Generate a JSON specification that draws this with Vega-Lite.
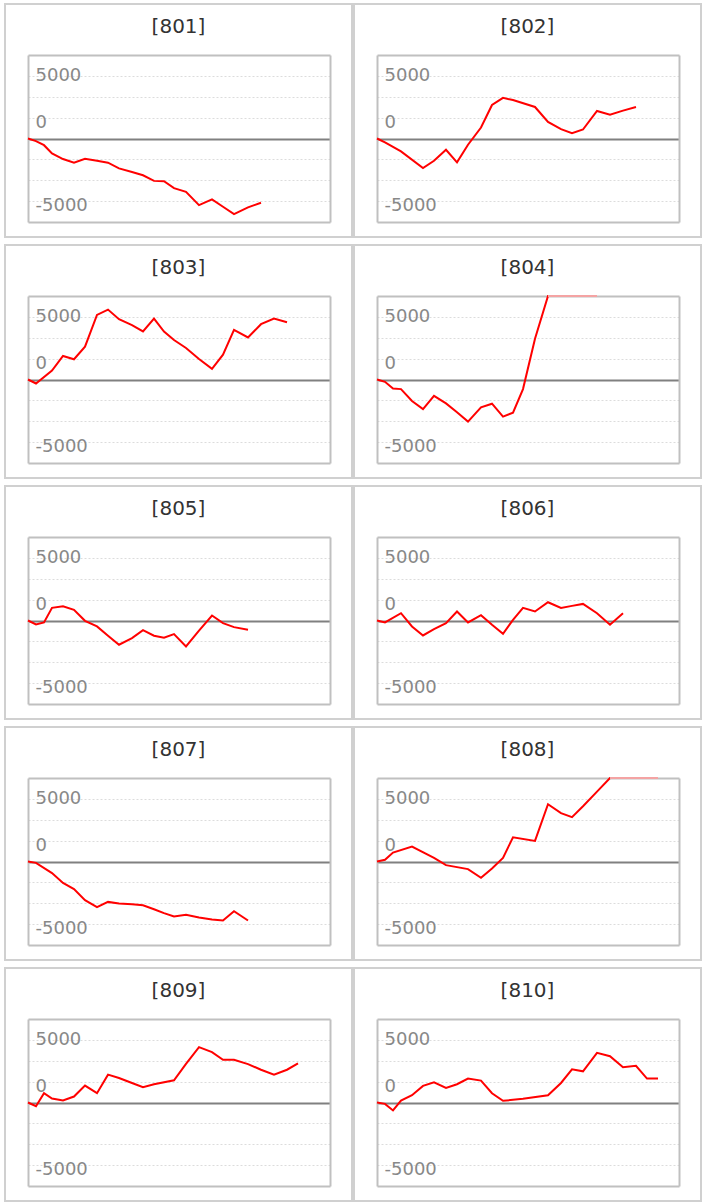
{
  "$schema": "https://vega.github.io/schema/vega-lite/v6.json",
  "padding": {"left": 4, "top": 3, "right": 0, "bottom": 0},
  "background": "white",
  "datasets": {
    "pl": [
      {"code":"801","t":0,"v":0},{"code":"801","t":8,"v":-250},{"code":"801","t":16,"v":-640},{"code":"801","t":24,"v":-1430},{"code":"801","t":35,"v":-1970},{"code":"801","t":46,"v":-2320},{"code":"801","t":57,"v":-1940},{"code":"801","t":69,"v":-2130},{"code":"801","t":80,"v":-2320},{"code":"801","t":91,"v":-2860},{"code":"801","t":104,"v":-3210},{"code":"801","t":115,"v":-3520},{"code":"801","t":126,"v":-4060},{"code":"801","t":136,"v":-4100},{"code":"801","t":146,"v":-4760},{"code":"801","t":158,"v":-5110},{"code":"801","t":171,"v":-6380},{"code":"801","t":184,"v":-5840},{"code":"801","t":195,"v":-6540},{"code":"801","t":206,"v":-7240},{"code":"801","t":220,"v":-6600},{"code":"801","t":233,"v":-6160},
      {"code":"802","t":0,"v":0},{"code":"802","t":8,"v":-380},{"code":"802","t":24,"v":-1240},{"code":"802","t":46,"v":-2830},{"code":"802","t":57,"v":-2130},{"code":"802","t":69,"v":-1080},{"code":"802","t":80,"v":-2290},{"code":"802","t":91,"v":-600},{"code":"802","t":104,"v":1050},{"code":"802","t":115,"v":3210},{"code":"802","t":126,"v":3900},{"code":"802","t":136,"v":3680},{"code":"802","t":158,"v":3020},{"code":"802","t":171,"v":1590},{"code":"802","t":184,"v":890},{"code":"802","t":195,"v":510},{"code":"802","t":206,"v":860},{"code":"802","t":220,"v":2640},{"code":"802","t":233,"v":2290},{"code":"802","t":246,"v":2670},{"code":"802","t":259,"v":3020},
      {"code":"803","t":0,"v":0},{"code":"803","t":8,"v":-380},{"code":"803","t":24,"v":860},{"code":"803","t":35,"v":2250},{"code":"803","t":46,"v":1940},{"code":"803","t":57,"v":3140},{"code":"803","t":69,"v":6190},{"code":"803","t":80,"v":6700},{"code":"803","t":91,"v":5780},{"code":"803","t":104,"v":5210},{"code":"803","t":115,"v":4600},{"code":"803","t":126,"v":5840},{"code":"803","t":136,"v":4600},{"code":"803","t":146,"v":3780},{"code":"803","t":158,"v":3020},{"code":"803","t":171,"v":1970},{"code":"803","t":184,"v":1020},{"code":"803","t":195,"v":2380},{"code":"803","t":206,"v":4760},{"code":"803","t":220,"v":4030},{"code":"803","t":233,"v":5300},{"code":"803","t":246,"v":5840},{"code":"803","t":259,"v":5490},
      {"code":"804","t":0,"v":0},{"code":"804","t":8,"v":-220},{"code":"804","t":16,"v":-860},{"code":"804","t":24,"v":-920},{"code":"804","t":35,"v":-2060},{"code":"804","t":46,"v":-2830},{"code":"804","t":57,"v":-1560},{"code":"804","t":69,"v":-2290},{"code":"804","t":80,"v":-3140},{"code":"804","t":91,"v":-4030},{"code":"804","t":104,"v":-2670},{"code":"804","t":115,"v":-2320},{"code":"804","t":126,"v":-3560},{"code":"804","t":136,"v":-3180},{"code":"804","t":146,"v":-920},{"code":"804","t":158,"v":3900},{"code":"804","t":171,"v":8300},{"code":"804","t":184,"v":9500},{"code":"804","t":195,"v":10200},{"code":"804","t":206,"v":10800},{"code":"804","t":220,"v":11200},
      {"code":"805","t":0,"v":0},{"code":"805","t":8,"v":-380},{"code":"805","t":16,"v":-190},{"code":"805","t":24,"v":1210},{"code":"805","t":35,"v":1370},{"code":"805","t":46,"v":1020},{"code":"805","t":57,"v":-30},{"code":"805","t":69,"v":-570},{"code":"805","t":80,"v":-1460},{"code":"805","t":91,"v":-2320},{"code":"805","t":104,"v":-1680},{"code":"805","t":115,"v":-920},{"code":"805","t":126,"v":-1460},{"code":"805","t":136,"v":-1650},{"code":"805","t":146,"v":-1300},{"code":"805","t":158,"v":-2480},{"code":"805","t":171,"v":-980},{"code":"805","t":184,"v":480},{"code":"805","t":195,"v":-250},{"code":"805","t":206,"v":-635},{"code":"805","t":220,"v":-890},
      {"code":"806","t":0,"v":0},{"code":"806","t":8,"v":-190},{"code":"806","t":24,"v":700},{"code":"806","t":35,"v":-570},{"code":"806","t":46,"v":-1430},{"code":"806","t":57,"v":-830},{"code":"806","t":69,"v":-250},{"code":"806","t":80,"v":860},{"code":"806","t":91,"v":-190},{"code":"806","t":104,"v":510},{"code":"806","t":115,"v":-410},{"code":"806","t":126,"v":-1270},{"code":"806","t":136,"v":60},{"code":"806","t":146,"v":1210},{"code":"806","t":158,"v":860},{"code":"806","t":171,"v":1750},{"code":"806","t":184,"v":1210},{"code":"806","t":195,"v":1400},{"code":"806","t":206,"v":1590},{"code":"806","t":220,"v":700},{"code":"806","t":233,"v":-410},{"code":"806","t":246,"v":700},
      {"code":"807","t":0,"v":0},{"code":"807","t":8,"v":-130},{"code":"807","t":24,"v":-1110},{"code":"807","t":35,"v":-2060},{"code":"807","t":46,"v":-2640},{"code":"807","t":57,"v":-3710},{"code":"807","t":69,"v":-4380},{"code":"807","t":80,"v":-3870},{"code":"807","t":91,"v":-4030},{"code":"807","t":104,"v":-4100},{"code":"807","t":115,"v":-4190},{"code":"807","t":126,"v":-4570},{"code":"807","t":136,"v":-4950},{"code":"807","t":146,"v":-5270},{"code":"807","t":158,"v":-5110},{"code":"807","t":171,"v":-5370},{"code":"807","t":184,"v":-5560},{"code":"807","t":195,"v":-5650},{"code":"807","t":206,"v":-4760},{"code":"807","t":220,"v":-5650},
      {"code":"808","t":0,"v":0},{"code":"808","t":8,"v":160},{"code":"808","t":16,"v":860},{"code":"808","t":35,"v":1430},{"code":"808","t":57,"v":350},{"code":"808","t":69,"v":-350},{"code":"808","t":91,"v":-730},{"code":"808","t":104,"v":-1560},{"code":"808","t":115,"v":-670},{"code":"808","t":126,"v":350},{"code":"808","t":136,"v":2320},{"code":"808","t":158,"v":1970},{"code":"808","t":171,"v":5490},{"code":"808","t":184,"v":4630},{"code":"808","t":195,"v":4250},{"code":"808","t":206,"v":5300},{"code":"808","t":220,"v":6700},{"code":"808","t":233,"v":8100},{"code":"808","t":246,"v":9000},{"code":"808","t":259,"v":9800},{"code":"808","t":270,"v":10500},{"code":"808","t":281,"v":11000},
      {"code":"809","t":0,"v":0},{"code":"809","t":8,"v":-350},{"code":"809","t":16,"v":890},{"code":"809","t":24,"v":380},{"code":"809","t":35,"v":190},{"code":"809","t":46,"v":570},{"code":"809","t":57,"v":1620},{"code":"809","t":69,"v":890},{"code":"809","t":80,"v":2670},{"code":"809","t":91,"v":2350},{"code":"809","t":104,"v":1870},{"code":"809","t":115,"v":1460},{"code":"809","t":126,"v":1750},{"code":"809","t":146,"v":2130},{"code":"809","t":158,"v":3700},{"code":"809","t":171,"v":5300},{"code":"809","t":184,"v":4830},{"code":"809","t":195,"v":4100},{"code":"809","t":206,"v":4100},{"code":"809","t":220,"v":3680},{"code":"809","t":233,"v":3140},{"code":"809","t":246,"v":2670},{"code":"809","t":259,"v":3140},{"code":"809","t":270,"v":3750},
      {"code":"810","t":0,"v":0},{"code":"810","t":8,"v":-130},{"code":"810","t":16,"v":-760},{"code":"810","t":24,"v":190},{"code":"810","t":35,"v":700},{"code":"810","t":46,"v":1590},{"code":"810","t":57,"v":1940},{"code":"810","t":69,"v":1400},{"code":"810","t":80,"v":1750},{"code":"810","t":91,"v":2290},{"code":"810","t":104,"v":2100},{"code":"810","t":115,"v":890},{"code":"810","t":126,"v":160},{"code":"810","t":146,"v":350},{"code":"810","t":171,"v":700},{"code":"810","t":184,"v":1870},{"code":"810","t":195,"v":3180},{"code":"810","t":206,"v":2990},{"code":"810","t":220,"v":4760},{"code":"810","t":233,"v":4440},{"code":"810","t":246,"v":3370},{"code":"810","t":259,"v":3520},{"code":"810","t":270,"v":2290},{"code":"810","t":281,"v":2290}
    ]
  },
  "columns": 2,
  "spacing": {"row": 6, "column": 0},
  "concat": [
    {"title": {"text": "[801]"}, "width": 347, "height": 233, "data": {"name": "pl"}, "transform": [{"filter": "datum.code === '801'"}],
     "layer": [
      {"mark": {"type": "line", "opacity": 0}, "encoding": {
        "x": {"field": "t", "type": "quantitative", "scale": {"domain": [0, 302], "range": [23, 325], "nice": false, "zero": false}, "axis": {"orient": "top", "offset": -51, "title": null}},
        "y": {"field": "v", "type": "quantitative", "scale": {"domain": [-8000, 8000], "range": [218, 51], "nice": false, "zero": false, "clamp": true}, "axis": {"orient": "right", "offset": -22, "title": null}}}},
      {"mark": {"type": "line", "color": "#ff0000", "strokeWidth": 2}, "encoding": {
        "x": {"field": "t", "type": "quantitative", "axis": {"orient": "bottom", "offset": -15, "title": null}},
        "y": {"field": "v", "type": "quantitative", "axis": {"orient": "left", "offset": -23, "title": null, "labels": true, "grid": true, "values": [-6000, -5000, -4000, -2000, 0, 2000, 4000, 5000, 6000], "labelExpr": "(datum.value === 0 || datum.value === 5000 || datum.value === -5000) ? '' + datum.value : ''", "labelOffset": {"condition": [{"test": "datum.value === 0", "value": -16}, {"test": "datum.value === 5000", "value": -11}], "value": 15}, "gridColor": {"condition": {"test": "datum.value === 0", "value": "#808080"}, "value": "#dcdcdc"}, "gridDash": {"condition": {"test": "datum.value === 0", "value": []}, "value": [2, 2]}, "gridWidth": {"condition": {"test": "datum.value === 0", "value": 2}, "value": 1}, "gridOpacity": {"condition": {"test": "abs(datum.value) === 5000", "value": 0}, "value": 1}}}}},
      {"transform": [{"filter": "datum.v > 8000"}], "mark": {"type": "line", "color": "#f4a3a3", "strokeWidth": 2}, "encoding": {
        "x": {"field": "t", "type": "quantitative", "axis": null},
        "y": {"field": "v", "type": "quantitative", "axis": null}}}
     ],
     "resolve": {"axis": {"x": "independent", "y": "independent"}}},
    {"title": {"text": "[802]"}, "width": 347, "height": 233, "data": {"name": "pl"}, "transform": [{"filter": "datum.code === '802'"}],
     "layer": [
      {"mark": {"type": "line", "opacity": 0}, "encoding": {
        "x": {"field": "t", "type": "quantitative", "scale": {"domain": [0, 302], "range": [23, 325], "nice": false, "zero": false}, "axis": {"orient": "top", "offset": -51, "title": null}},
        "y": {"field": "v", "type": "quantitative", "scale": {"domain": [-8000, 8000], "range": [218, 51], "nice": false, "zero": false, "clamp": true}, "axis": {"orient": "right", "offset": -22, "title": null}}}},
      {"mark": {"type": "line", "color": "#ff0000", "strokeWidth": 2}, "encoding": {
        "x": {"field": "t", "type": "quantitative", "axis": {"orient": "bottom", "offset": -15, "title": null}},
        "y": {"field": "v", "type": "quantitative", "axis": {"orient": "left", "offset": -23, "title": null, "labels": true, "grid": true, "values": [-6000, -5000, -4000, -2000, 0, 2000, 4000, 5000, 6000], "labelExpr": "(datum.value === 0 || datum.value === 5000 || datum.value === -5000) ? '' + datum.value : ''", "labelOffset": {"condition": [{"test": "datum.value === 0", "value": -16}, {"test": "datum.value === 5000", "value": -11}], "value": 15}, "gridColor": {"condition": {"test": "datum.value === 0", "value": "#808080"}, "value": "#dcdcdc"}, "gridDash": {"condition": {"test": "datum.value === 0", "value": []}, "value": [2, 2]}, "gridWidth": {"condition": {"test": "datum.value === 0", "value": 2}, "value": 1}, "gridOpacity": {"condition": {"test": "abs(datum.value) === 5000", "value": 0}, "value": 1}}}}},
      {"transform": [{"filter": "datum.v > 8000"}], "mark": {"type": "line", "color": "#f4a3a3", "strokeWidth": 2}, "encoding": {
        "x": {"field": "t", "type": "quantitative", "axis": null},
        "y": {"field": "v", "type": "quantitative", "axis": null}}}
     ],
     "resolve": {"axis": {"x": "independent", "y": "independent"}}},
    {"title": {"text": "[803]"}, "width": 347, "height": 233, "data": {"name": "pl"}, "transform": [{"filter": "datum.code === '803'"}],
     "layer": [
      {"mark": {"type": "line", "opacity": 0}, "encoding": {
        "x": {"field": "t", "type": "quantitative", "scale": {"domain": [0, 302], "range": [23, 325], "nice": false, "zero": false}, "axis": {"orient": "top", "offset": -51, "title": null}},
        "y": {"field": "v", "type": "quantitative", "scale": {"domain": [-8000, 8000], "range": [218, 51], "nice": false, "zero": false, "clamp": true}, "axis": {"orient": "right", "offset": -22, "title": null}}}},
      {"mark": {"type": "line", "color": "#ff0000", "strokeWidth": 2}, "encoding": {
        "x": {"field": "t", "type": "quantitative", "axis": {"orient": "bottom", "offset": -15, "title": null}},
        "y": {"field": "v", "type": "quantitative", "axis": {"orient": "left", "offset": -23, "title": null, "labels": true, "grid": true, "values": [-6000, -5000, -4000, -2000, 0, 2000, 4000, 5000, 6000], "labelExpr": "(datum.value === 0 || datum.value === 5000 || datum.value === -5000) ? '' + datum.value : ''", "labelOffset": {"condition": [{"test": "datum.value === 0", "value": -16}, {"test": "datum.value === 5000", "value": -11}], "value": 15}, "gridColor": {"condition": {"test": "datum.value === 0", "value": "#808080"}, "value": "#dcdcdc"}, "gridDash": {"condition": {"test": "datum.value === 0", "value": []}, "value": [2, 2]}, "gridWidth": {"condition": {"test": "datum.value === 0", "value": 2}, "value": 1}, "gridOpacity": {"condition": {"test": "abs(datum.value) === 5000", "value": 0}, "value": 1}}}}},
      {"transform": [{"filter": "datum.v > 8000"}], "mark": {"type": "line", "color": "#f4a3a3", "strokeWidth": 2}, "encoding": {
        "x": {"field": "t", "type": "quantitative", "axis": null},
        "y": {"field": "v", "type": "quantitative", "axis": null}}}
     ],
     "resolve": {"axis": {"x": "independent", "y": "independent"}}},
    {"title": {"text": "[804]"}, "width": 347, "height": 233, "data": {"name": "pl"}, "transform": [{"filter": "datum.code === '804'"}],
     "layer": [
      {"mark": {"type": "line", "opacity": 0}, "encoding": {
        "x": {"field": "t", "type": "quantitative", "scale": {"domain": [0, 302], "range": [23, 325], "nice": false, "zero": false}, "axis": {"orient": "top", "offset": -51, "title": null}},
        "y": {"field": "v", "type": "quantitative", "scale": {"domain": [-8000, 8000], "range": [218, 51], "nice": false, "zero": false, "clamp": true}, "axis": {"orient": "right", "offset": -22, "title": null}}}},
      {"mark": {"type": "line", "color": "#ff0000", "strokeWidth": 2}, "encoding": {
        "x": {"field": "t", "type": "quantitative", "axis": {"orient": "bottom", "offset": -15, "title": null}},
        "y": {"field": "v", "type": "quantitative", "axis": {"orient": "left", "offset": -23, "title": null, "labels": true, "grid": true, "values": [-6000, -5000, -4000, -2000, 0, 2000, 4000, 5000, 6000], "labelExpr": "(datum.value === 0 || datum.value === 5000 || datum.value === -5000) ? '' + datum.value : ''", "labelOffset": {"condition": [{"test": "datum.value === 0", "value": -16}, {"test": "datum.value === 5000", "value": -11}], "value": 15}, "gridColor": {"condition": {"test": "datum.value === 0", "value": "#808080"}, "value": "#dcdcdc"}, "gridDash": {"condition": {"test": "datum.value === 0", "value": []}, "value": [2, 2]}, "gridWidth": {"condition": {"test": "datum.value === 0", "value": 2}, "value": 1}, "gridOpacity": {"condition": {"test": "abs(datum.value) === 5000", "value": 0}, "value": 1}}}}},
      {"transform": [{"filter": "datum.v > 8000"}], "mark": {"type": "line", "color": "#f4a3a3", "strokeWidth": 2}, "encoding": {
        "x": {"field": "t", "type": "quantitative", "axis": null},
        "y": {"field": "v", "type": "quantitative", "axis": null}}}
     ],
     "resolve": {"axis": {"x": "independent", "y": "independent"}}},
    {"title": {"text": "[805]"}, "width": 347, "height": 233, "data": {"name": "pl"}, "transform": [{"filter": "datum.code === '805'"}],
     "layer": [
      {"mark": {"type": "line", "opacity": 0}, "encoding": {
        "x": {"field": "t", "type": "quantitative", "scale": {"domain": [0, 302], "range": [23, 325], "nice": false, "zero": false}, "axis": {"orient": "top", "offset": -51, "title": null}},
        "y": {"field": "v", "type": "quantitative", "scale": {"domain": [-8000, 8000], "range": [218, 51], "nice": false, "zero": false, "clamp": true}, "axis": {"orient": "right", "offset": -22, "title": null}}}},
      {"mark": {"type": "line", "color": "#ff0000", "strokeWidth": 2}, "encoding": {
        "x": {"field": "t", "type": "quantitative", "axis": {"orient": "bottom", "offset": -15, "title": null}},
        "y": {"field": "v", "type": "quantitative", "axis": {"orient": "left", "offset": -23, "title": null, "labels": true, "grid": true, "values": [-6000, -5000, -4000, -2000, 0, 2000, 4000, 5000, 6000], "labelExpr": "(datum.value === 0 || datum.value === 5000 || datum.value === -5000) ? '' + datum.value : ''", "labelOffset": {"condition": [{"test": "datum.value === 0", "value": -16}, {"test": "datum.value === 5000", "value": -11}], "value": 15}, "gridColor": {"condition": {"test": "datum.value === 0", "value": "#808080"}, "value": "#dcdcdc"}, "gridDash": {"condition": {"test": "datum.value === 0", "value": []}, "value": [2, 2]}, "gridWidth": {"condition": {"test": "datum.value === 0", "value": 2}, "value": 1}, "gridOpacity": {"condition": {"test": "abs(datum.value) === 5000", "value": 0}, "value": 1}}}}},
      {"transform": [{"filter": "datum.v > 8000"}], "mark": {"type": "line", "color": "#f4a3a3", "strokeWidth": 2}, "encoding": {
        "x": {"field": "t", "type": "quantitative", "axis": null},
        "y": {"field": "v", "type": "quantitative", "axis": null}}}
     ],
     "resolve": {"axis": {"x": "independent", "y": "independent"}}},
    {"title": {"text": "[806]"}, "width": 347, "height": 233, "data": {"name": "pl"}, "transform": [{"filter": "datum.code === '806'"}],
     "layer": [
      {"mark": {"type": "line", "opacity": 0}, "encoding": {
        "x": {"field": "t", "type": "quantitative", "scale": {"domain": [0, 302], "range": [23, 325], "nice": false, "zero": false}, "axis": {"orient": "top", "offset": -51, "title": null}},
        "y": {"field": "v", "type": "quantitative", "scale": {"domain": [-8000, 8000], "range": [218, 51], "nice": false, "zero": false, "clamp": true}, "axis": {"orient": "right", "offset": -22, "title": null}}}},
      {"mark": {"type": "line", "color": "#ff0000", "strokeWidth": 2}, "encoding": {
        "x": {"field": "t", "type": "quantitative", "axis": {"orient": "bottom", "offset": -15, "title": null}},
        "y": {"field": "v", "type": "quantitative", "axis": {"orient": "left", "offset": -23, "title": null, "labels": true, "grid": true, "values": [-6000, -5000, -4000, -2000, 0, 2000, 4000, 5000, 6000], "labelExpr": "(datum.value === 0 || datum.value === 5000 || datum.value === -5000) ? '' + datum.value : ''", "labelOffset": {"condition": [{"test": "datum.value === 0", "value": -16}, {"test": "datum.value === 5000", "value": -11}], "value": 15}, "gridColor": {"condition": {"test": "datum.value === 0", "value": "#808080"}, "value": "#dcdcdc"}, "gridDash": {"condition": {"test": "datum.value === 0", "value": []}, "value": [2, 2]}, "gridWidth": {"condition": {"test": "datum.value === 0", "value": 2}, "value": 1}, "gridOpacity": {"condition": {"test": "abs(datum.value) === 5000", "value": 0}, "value": 1}}}}},
      {"transform": [{"filter": "datum.v > 8000"}], "mark": {"type": "line", "color": "#f4a3a3", "strokeWidth": 2}, "encoding": {
        "x": {"field": "t", "type": "quantitative", "axis": null},
        "y": {"field": "v", "type": "quantitative", "axis": null}}}
     ],
     "resolve": {"axis": {"x": "independent", "y": "independent"}}},
    {"title": {"text": "[807]"}, "width": 347, "height": 233, "data": {"name": "pl"}, "transform": [{"filter": "datum.code === '807'"}],
     "layer": [
      {"mark": {"type": "line", "opacity": 0}, "encoding": {
        "x": {"field": "t", "type": "quantitative", "scale": {"domain": [0, 302], "range": [23, 325], "nice": false, "zero": false}, "axis": {"orient": "top", "offset": -51, "title": null}},
        "y": {"field": "v", "type": "quantitative", "scale": {"domain": [-8000, 8000], "range": [218, 51], "nice": false, "zero": false, "clamp": true}, "axis": {"orient": "right", "offset": -22, "title": null}}}},
      {"mark": {"type": "line", "color": "#ff0000", "strokeWidth": 2}, "encoding": {
        "x": {"field": "t", "type": "quantitative", "axis": {"orient": "bottom", "offset": -15, "title": null}},
        "y": {"field": "v", "type": "quantitative", "axis": {"orient": "left", "offset": -23, "title": null, "labels": true, "grid": true, "values": [-6000, -5000, -4000, -2000, 0, 2000, 4000, 5000, 6000], "labelExpr": "(datum.value === 0 || datum.value === 5000 || datum.value === -5000) ? '' + datum.value : ''", "labelOffset": {"condition": [{"test": "datum.value === 0", "value": -16}, {"test": "datum.value === 5000", "value": -11}], "value": 15}, "gridColor": {"condition": {"test": "datum.value === 0", "value": "#808080"}, "value": "#dcdcdc"}, "gridDash": {"condition": {"test": "datum.value === 0", "value": []}, "value": [2, 2]}, "gridWidth": {"condition": {"test": "datum.value === 0", "value": 2}, "value": 1}, "gridOpacity": {"condition": {"test": "abs(datum.value) === 5000", "value": 0}, "value": 1}}}}},
      {"transform": [{"filter": "datum.v > 8000"}], "mark": {"type": "line", "color": "#f4a3a3", "strokeWidth": 2}, "encoding": {
        "x": {"field": "t", "type": "quantitative", "axis": null},
        "y": {"field": "v", "type": "quantitative", "axis": null}}}
     ],
     "resolve": {"axis": {"x": "independent", "y": "independent"}}},
    {"title": {"text": "[808]"}, "width": 347, "height": 233, "data": {"name": "pl"}, "transform": [{"filter": "datum.code === '808'"}],
     "layer": [
      {"mark": {"type": "line", "opacity": 0}, "encoding": {
        "x": {"field": "t", "type": "quantitative", "scale": {"domain": [0, 302], "range": [23, 325], "nice": false, "zero": false}, "axis": {"orient": "top", "offset": -51, "title": null}},
        "y": {"field": "v", "type": "quantitative", "scale": {"domain": [-8000, 8000], "range": [218, 51], "nice": false, "zero": false, "clamp": true}, "axis": {"orient": "right", "offset": -22, "title": null}}}},
      {"mark": {"type": "line", "color": "#ff0000", "strokeWidth": 2}, "encoding": {
        "x": {"field": "t", "type": "quantitative", "axis": {"orient": "bottom", "offset": -15, "title": null}},
        "y": {"field": "v", "type": "quantitative", "axis": {"orient": "left", "offset": -23, "title": null, "labels": true, "grid": true, "values": [-6000, -5000, -4000, -2000, 0, 2000, 4000, 5000, 6000], "labelExpr": "(datum.value === 0 || datum.value === 5000 || datum.value === -5000) ? '' + datum.value : ''", "labelOffset": {"condition": [{"test": "datum.value === 0", "value": -16}, {"test": "datum.value === 5000", "value": -11}], "value": 15}, "gridColor": {"condition": {"test": "datum.value === 0", "value": "#808080"}, "value": "#dcdcdc"}, "gridDash": {"condition": {"test": "datum.value === 0", "value": []}, "value": [2, 2]}, "gridWidth": {"condition": {"test": "datum.value === 0", "value": 2}, "value": 1}, "gridOpacity": {"condition": {"test": "abs(datum.value) === 5000", "value": 0}, "value": 1}}}}},
      {"transform": [{"filter": "datum.v > 8000"}], "mark": {"type": "line", "color": "#f4a3a3", "strokeWidth": 2}, "encoding": {
        "x": {"field": "t", "type": "quantitative", "axis": null},
        "y": {"field": "v", "type": "quantitative", "axis": null}}}
     ],
     "resolve": {"axis": {"x": "independent", "y": "independent"}}},
    {"title": {"text": "[809]"}, "width": 347, "height": 233, "data": {"name": "pl"}, "transform": [{"filter": "datum.code === '809'"}],
     "layer": [
      {"mark": {"type": "line", "opacity": 0}, "encoding": {
        "x": {"field": "t", "type": "quantitative", "scale": {"domain": [0, 302], "range": [23, 325], "nice": false, "zero": false}, "axis": {"orient": "top", "offset": -51, "title": null}},
        "y": {"field": "v", "type": "quantitative", "scale": {"domain": [-8000, 8000], "range": [218, 51], "nice": false, "zero": false, "clamp": true}, "axis": {"orient": "right", "offset": -22, "title": null}}}},
      {"mark": {"type": "line", "color": "#ff0000", "strokeWidth": 2}, "encoding": {
        "x": {"field": "t", "type": "quantitative", "axis": {"orient": "bottom", "offset": -15, "title": null}},
        "y": {"field": "v", "type": "quantitative", "axis": {"orient": "left", "offset": -23, "title": null, "labels": true, "grid": true, "values": [-6000, -5000, -4000, -2000, 0, 2000, 4000, 5000, 6000], "labelExpr": "(datum.value === 0 || datum.value === 5000 || datum.value === -5000) ? '' + datum.value : ''", "labelOffset": {"condition": [{"test": "datum.value === 0", "value": -16}, {"test": "datum.value === 5000", "value": -11}], "value": 15}, "gridColor": {"condition": {"test": "datum.value === 0", "value": "#808080"}, "value": "#dcdcdc"}, "gridDash": {"condition": {"test": "datum.value === 0", "value": []}, "value": [2, 2]}, "gridWidth": {"condition": {"test": "datum.value === 0", "value": 2}, "value": 1}, "gridOpacity": {"condition": {"test": "abs(datum.value) === 5000", "value": 0}, "value": 1}}}}},
      {"transform": [{"filter": "datum.v > 8000"}], "mark": {"type": "line", "color": "#f4a3a3", "strokeWidth": 2}, "encoding": {
        "x": {"field": "t", "type": "quantitative", "axis": null},
        "y": {"field": "v", "type": "quantitative", "axis": null}}}
     ],
     "resolve": {"axis": {"x": "independent", "y": "independent"}}},
    {"title": {"text": "[810]"}, "width": 347, "height": 233, "data": {"name": "pl"}, "transform": [{"filter": "datum.code === '810'"}],
     "layer": [
      {"mark": {"type": "line", "opacity": 0}, "encoding": {
        "x": {"field": "t", "type": "quantitative", "scale": {"domain": [0, 302], "range": [23, 325], "nice": false, "zero": false}, "axis": {"orient": "top", "offset": -51, "title": null}},
        "y": {"field": "v", "type": "quantitative", "scale": {"domain": [-8000, 8000], "range": [218, 51], "nice": false, "zero": false, "clamp": true}, "axis": {"orient": "right", "offset": -22, "title": null}}}},
      {"mark": {"type": "line", "color": "#ff0000", "strokeWidth": 2}, "encoding": {
        "x": {"field": "t", "type": "quantitative", "axis": {"orient": "bottom", "offset": -15, "title": null}},
        "y": {"field": "v", "type": "quantitative", "axis": {"orient": "left", "offset": -23, "title": null, "labels": true, "grid": true, "values": [-6000, -5000, -4000, -2000, 0, 2000, 4000, 5000, 6000], "labelExpr": "(datum.value === 0 || datum.value === 5000 || datum.value === -5000) ? '' + datum.value : ''", "labelOffset": {"condition": [{"test": "datum.value === 0", "value": -16}, {"test": "datum.value === 5000", "value": -11}], "value": 15}, "gridColor": {"condition": {"test": "datum.value === 0", "value": "#808080"}, "value": "#dcdcdc"}, "gridDash": {"condition": {"test": "datum.value === 0", "value": []}, "value": [2, 2]}, "gridWidth": {"condition": {"test": "datum.value === 0", "value": 2}, "value": 1}, "gridOpacity": {"condition": {"test": "abs(datum.value) === 5000", "value": 0}, "value": 1}}}}},
      {"transform": [{"filter": "datum.v > 8000"}], "mark": {"type": "line", "color": "#f4a3a3", "strokeWidth": 2}, "encoding": {
        "x": {"field": "t", "type": "quantitative", "axis": null},
        "y": {"field": "v", "type": "quantitative", "axis": null}}}
     ],
     "resolve": {"axis": {"x": "independent", "y": "independent"}}}
  ],
  "config": {
    "view": {"stroke": "#d0d0d0", "strokeWidth": 2},
    "axis": {
      "ticks": false, "tickSize": 0, "labels": false, "grid": false, "zindex": 0,
      "domain": true, "domainColor": "#c0c0c0", "domainWidth": 2,
      "labelFont": "DejaVu Sans", "labelFontSize": 18, "labelColor": "#888888",
      "labelAlign": "left", "labelBaseline": "middle", "labelPadding": -7,
      "labelOverlap": false, "labelFlush": false, "labelBound": false
    },
    "title": {"font": "DejaVu Sans", "fontSize": 20, "fontWeight": "normal", "color": "#333333", "anchor": "middle", "frame": "group", "baseline": "top", "offset": -33}
  }
}
